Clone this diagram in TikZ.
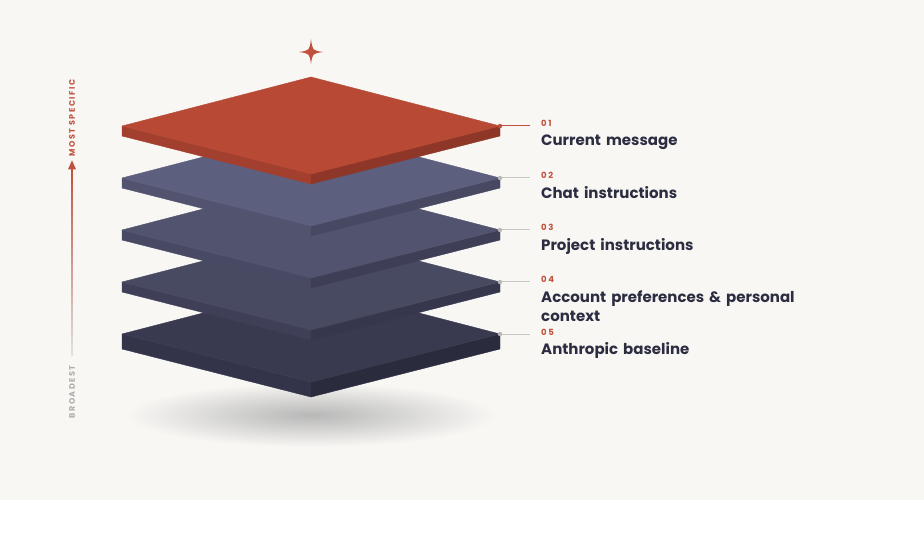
\documentclass[tikz,border=0pt]{standalone}
\usepackage{fontspec}
\setmainfont{Poppins}
\newfontfamily\capsfont{Poppins}[LetterSpace=18]
\usetikzlibrary{arrows.meta,positioning,calc}
\definecolor{bg}{HTML}{F8F7F4}
\definecolor{ink}{HTML}{2D2D42}
\definecolor{accent}{HTML}{C0513C}
\definecolor{c1}{HTML}{B84A35}
\definecolor{c1l}{HTML}{A33F2E}
\definecolor{c1r}{HTML}{8E3628}
\definecolor{c2}{HTML}{5D5F7F}
\definecolor{c2l}{HTML}{52546F}
\definecolor{c2r}{HTML}{474963}
\definecolor{c3}{HTML}{52536E}
\definecolor{c3l}{HTML}{484962}
\definecolor{c3r}{HTML}{3E3F56}
\definecolor{c4}{HTML}{484A62}
\definecolor{c4l}{HTML}{3F4057}
\definecolor{c4r}{HTML}{36374C}
\definecolor{c5}{HTML}{393A4F}
\definecolor{c5l}{HTML}{33344A}
\definecolor{c5r}{HTML}{2A2B3D}

\begin{document}
\begin{tikzpicture}[x=1pt,y=-1pt,
  num/.style={inner sep=0pt,anchor=base west,text=accent,
              font=\capsfont\fontsize{8.5}{10}\selectfont\bfseries},
  ttl/.style={inner sep=0pt,anchor=north west,text=ink,text width=275pt,
              align=left,font=\fontsize{15}{19}\selectfont\bfseries},
  side/.style={inner sep=0pt,rotate=90,
               font=\capsfont\fontsize{8}{10}\selectfont\bfseries},
  face/.style={fill=#1,draw=#1,line width=0.4pt,line join=round}]

  \useasboundingbox (0,0) rectangle (924,540);
  \fill[white] (0,0) rectangle (924,540);
  \fill[bg] (0,0) rectangle (924,500);

  % floor shadow
  \shade[inner color=black!28,outer color=bg] (311,415) ellipse (185 and 32);

  % layers, bottom first
  \foreach \n/\y/\t in {5/334/15,4/282/10,3/230/10,2/178/10,1/126/10}{
    \path[face=c\n l] (122,\y) -- (311,\y+48) -- (311,\y+48+\t) -- (122,\y+\t) -- cycle;
    \path[face=c\n r] (311,\y+48) -- (500,\y) -- (500,\y+\t) -- (311,\y+48+\t) -- cycle;
    \path[face=c\n] (122,\y) -- (311,\y-49) -- (500,\y) -- (311,\y+48) -- cycle;
    \coordinate (p\n) at (500,\y);
    \coordinate (e\n) at (530,\y);
  }

  % sparkle
  \fill[accent] (311,39) .. controls (312.5,50.5) .. (323,52)
    .. controls (312.5,53.5) .. (311,64) .. controls (309.5,53.5) .. (299,52)
    .. controls (309.5,50.5) .. (311,39) -- cycle;

  % leader lines
  \draw[accent,line width=1pt] (p1) -- (e1);
  \fill[accent] (p1) circle (2.2);
  \foreach \n in {2,...,5}{
    \draw[black!22,line width=1pt] (p\n) -- (e\n);
    \fill[black!28] (p\n) circle (2.2);
  }

  % labels
  \foreach \n/\y/\lbl in {1/126/Current message,
                          2/178/Chat instructions,
                          3/230/Project instructions,
                          4/282/Account preferences \& personal context,
                          5/334/Anthropic baseline}{
    \node[num] (n\n) at (541,\y+1) {0\n};
    \node[ttl] (t\n) at (541,\y+8.5) {\lbl};
  }

  % specificity axis
  \node[side,text=accent] (most) at (72,118) {MOST SPECIFIC};
  \node[side,text=black!32] (broad) at (72,392) {BROADEST};
  \shade[top color=accent,middle color=accent!75,bottom color=black!12]
    ($(most.west)+(-0.75,12)$) rectangle ($(broad.east)+(0.75,-10)$);
  \fill[accent] ($(most.west)+(0,4)$) -- ++(4,9) -- ++(-8,0) -- cycle;
\end{tikzpicture}
\end{document}
